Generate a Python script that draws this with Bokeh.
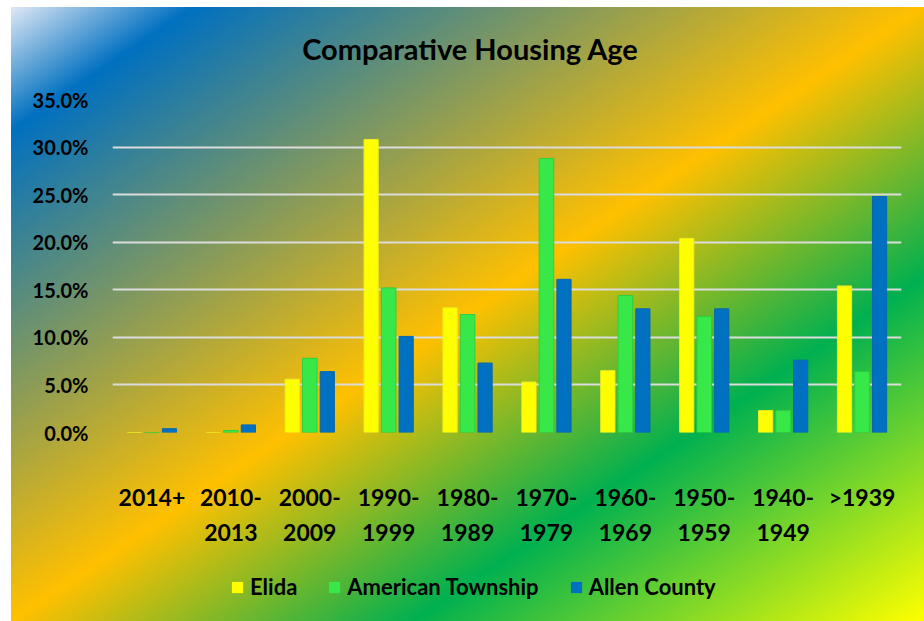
from bokeh.plotting import figure
from bokeh.layouts import column
from bokeh.models import (ColumnDataSource, Range1d, FactorRange, PrintfTickFormatter,
                          Legend, LegendItem, Label)
from bokeh.transform import dodge
from bokeh.embed import file_html
from bokeh.resources import INLINE

# ---- data (percent of housing units by year built) ----
periods = ["2014+", "2010-\n2013", "2000-\n2009", "1990-\n1999", "1980-\n1989",
           "1970-\n1979", "1960-\n1969", "1950-\n1959", "1940-\n1949", ">1939"]
elida = [0.0, 0.0, 5.6, 30.8, 13.1, 5.3, 6.5, 20.4, 2.3, 15.4]
american_township = [0.0, 0.2, 7.8, 15.2, 12.4, 28.8, 14.4, 12.2, 2.3, 6.4]
allen_county = [0.4, 0.8, 6.4, 10.1, 7.3, 16.1, 13.0, 13.0, 7.6, 24.8]
y_ticks = [0, 5, 10, 15, 20, 25, 30, 35]
series_names = ["Elida", "American Township", "Allen County"]
chart_title = "Comparative Housing Age"
series_fill = ["#FFFF00", "#38E848", "#0070C0"]
series_line = ["#EDED20", "#2CD040", "#0868B0"]

FONT = "Lato"
gradient = ("linear-gradient(146deg, #dfe8f4 0%, #0070c0 10%, #ffc000 50%, "
            "#00b050 72%, #ffff00 100%)")


def strip(height):
    s = figure(x_range=Range1d(0, 1), y_range=Range1d(0, 1), width=913, height=height,
               output_backend="svg", toolbar_location=None,
               x_axis_location=None, y_axis_location=None, min_border=0,
               border_fill_alpha=0, background_fill_alpha=0, outline_line_color=None)
    s.grid.grid_line_color = None
    return s


# ---------------- title strip ----------------
ttl = strip(60)
ttl.add_layout(Label(x=0.4537, y=0.317, text=chart_title, text_align="center",
                     text_baseline="middle", text_font=FONT, text_font_size="29px",
                     text_font_style="bold", text_color="black"))

# ---------------- main chart ----------------
p = figure(x_range=FactorRange(*periods), y_range=Range1d(0, 35),
           width=913, height=500, output_backend="svg", toolbar_location=None,
           min_border_left=101, min_border_right=23, min_border_top=32,
           min_border_bottom=135, border_fill_alpha=0, background_fill_alpha=0,
           outline_line_color=None)

src = ColumnDataSource(dict(period=periods, elida=elida,
                            american=american_township, allen=allen_county))

p.vbar(x=dodge("period", -0.222, range=p.x_range), top="elida", width=0.18,
       source=src, fill_color=series_fill[0], line_color=series_line[0])
p.vbar(x=dodge("period", 0.0, range=p.x_range), top="american", width=0.185,
       source=src, fill_color=series_fill[1], line_color=series_line[1])
p.vbar(x=dodge("period", 0.222, range=p.x_range), top="allen", width=0.18,
       source=src, fill_color=series_fill[2], line_color=series_line[2])

p.ygrid.grid_line_color = "#dcdcdc"
p.ygrid.grid_line_width = 2
p.xgrid.grid_line_color = None

p.yaxis.ticker = y_ticks
p.yaxis.formatter = PrintfTickFormatter(format="%.1f%%")
for ax in (p.xaxis[0], p.yaxis[0]):
    ax.axis_line_color = None
    ax.major_tick_line_color = None
    ax.minor_tick_line_color = None
    ax.major_tick_out = 0
    ax.major_tick_in = 0
    ax.major_label_text_font = FONT
    ax.major_label_text_font_style = "bold"
    ax.major_label_text_color = "black"
p.yaxis.major_label_text_font_size = "20px"
p.yaxis.major_label_standoff = 24
p.xaxis.major_label_text_font_size = "23px"
p.xaxis.major_label_standoff = 50
p.xaxis.major_label_text_line_height = 1.25
p.xaxis.major_label_orientation = "horizontal"

# ---------------- legend strip ----------------
lg = strip(54)
items = []
for name, fc in zip(series_names, series_fill):
    # zero-size swatch source: only its colour is shown, in the legend key
    r = lg.vbar(x=[0], top=[0], width=0, fill_color=fc, line_color=None)
    items.append(LegendItem(label=name, renderers=[r]))
legend = Legend(items=items, orientation="horizontal", location=(112, 15),
                label_text_font=FONT, label_text_font_style="bold",
                label_text_font_size="22px", label_text_color="black",
                glyph_width=14, glyph_height=14, label_standoff=6, spacing=30,
                border_line_alpha=0, background_fill_alpha=0, padding=6, margin=0)
lg.add_layout(legend, "center")

page = column(ttl, p, lg, spacing=0,
              styles={"background": gradient, "margin-left": "11px", "margin-top": "7px"})

open("out.html", "w").write(file_html(page, INLINE))
